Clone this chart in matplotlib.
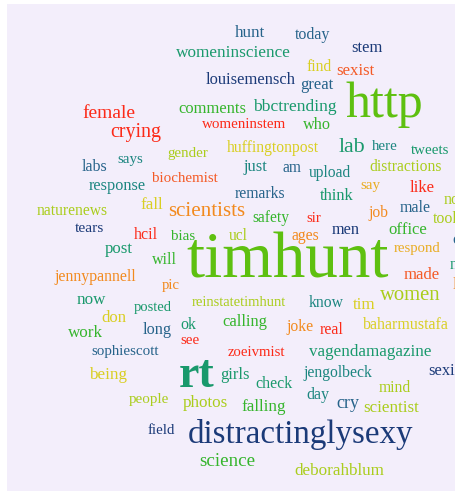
import matplotlib.pyplot as plt
from matplotlib.patches import Rectangle

# word cloud: words and their (relative) frequencies
words = ["womeninscience", "louisemensch", "hunt", "today", "stem", "find", "sexist",
         "great", "http", "female", "crying", "comments", "bbctrending", "womeninstem",
         "who", "gender", "huffingtonpost", "lab", "here", "tweets", "says", "labs",
         "just", "am", "upload", "distractions", "biochemist", "response", "say", "like",
         "remarks", "think", "no", "naturenews", "fall", "scientists", "male", "job",
         "safety", "sir", "took", "tears", "hcil", "bias", "ucl", "ages", "men", "office",
         "conference", "post", "respond", "will", "timhunt", "need", "made", "jennypannell",
         "lol", "pic", "women", "now", "reinstatetimhunt", "know", "tim", "posted", "don",
         "calling", "ok", "baharmustafa", "joke", "work", "long", "real", "see",
         "sophiescott", "zoeivmist", "vagendamagazine", "rt", "girls", "being", "sexist",
         "jengolbeck", "check", "mind", "day", "people", "photos", "cry", "falling",
         "scientist", "field", "distractinglysexy", "science", "deborahblum"]
freq = [17.3, 16.5, 17, 16, 16.5, 15.5, 16.7,
        16.5, 50, 19.5, 20, 16.5, 17.5, 15,
        16.3, 15, 15.6, 22, 15, 15, 15, 16,
        16.5, 15.5, 15.5, 15.6, 15, 16.3, 15, 16.7,
        15.8, 16.5, 16, 15.6, 17, 21, 16, 15.6,
        15.5, 15, 16, 15.4, 16, 15, 15.5, 15.8, 16.3, 16.7,
        16, 16.8, 14.8, 16, 65, 16, 16.6, 15.9,
        16, 14.7, 20.7, 17, 14.6, 15.8, 17, 14.6, 16.7,
        16.5, 16, 16, 15.7, 17, 16.3, 16, 15,
        15, 14.7, 17, 46, 16.5, 17, 16.5,
        15.7, 16, 15.6, 16, 15, 17, 18, 17,
        17, 14.7, 33, 19, 17]

# layout (left x, centre y in pixels) and colour group of each word
xs = [176, 206, 235, 295, 351, 306, 336,
      300, 346, 82, 110, 178, 253, 202,
      303, 167, 227, 339, 372, 411, 117, 82,
      244, 283, 309, 369, 152, 89, 360, 410,
      235, 320, 444, 37, 140, 168, 400, 368,
      252, 306, 433, 75, 134, 171, 229, 292, 332, 388,
      452, 105, 394, 152, 186, 450, 404, 54,
      453, 162, 380, 77, 192, 309, 353, 134, 101,
      222, 180, 363, 286, 68, 143, 320, 180,
      91, 228, 309, 179, 220, 89, 428,
      303, 255, 379, 306, 129, 183, 336, 241,
      363, 148, 188, 199, 294]
ys = [53, 80, 33, 35, 48, 67, 71,
      85, 105, 113, 133, 109, 107, 124,
      125, 154, 148, 147, 146, 150, 159, 167,
      167, 168, 173, 167, 178, 186, 185, 188,
      194, 196, 200, 211, 205, 211, 208, 213,
      218, 218, 219, 229, 235, 236, 236, 236, 230, 230,
      240, 249, 248, 260, 262, 265, 275, 277,
      285, 286, 295, 300, 302, 303, 305, 308, 318,
      322, 325, 325, 327, 333, 330, 330, 341,
      352, 352, 352, 376, 375, 375, 371,
      373, 384, 388, 395, 400, 403, 403, 407,
      408, 430, 435, 462, 471]
groups = ["tg", "nv", "bl", "bl", "nv", "ye", "ro",
          "bl", "li", "rd", "rd", "gr", "tg", "rd",
          "gr", "yg", "ye", "tg", "te", "tg", "te", "bl",
          "te", "bl", "te", "yg", "ro", "te", "oy", "rd",
          "bl", "tg", "yg", "yg", "ye", "or", "bl", "or",
          "gr", "rd", "yg", "nv", "rd", "gr", "yg", "or", "nv", "gr",
          "bl", "tg", "oy", "gr", "li", "tg", "ro", "or",
          "or", "or", "yg", "tg", "yg", "te", "ye", "tg", "ye",
          "gr", "tg", "ye", "or", "gr", "bl", "rd", "rd",
          "bl", "rd", "tg", "tg", "tg", "ye", "nv",
          "te", "tg", "yg", "te", "yg", "yg", "bl", "gr",
          "yg", "nv", "nv", "gr", "yg"]

palette = {
    "nv": "#1b3a78", "bl": "#26638a", "te": "#1c8680", "tg": "#19996c",
    "gr": "#35b52c", "li": "#5ec010", "yg": "#aacd1c", "ye": "#d9cf22",
    "oy": "#e9ad24", "or": "#f28a1e", "ro": "#f45a26", "rd": "#fc2a18",
}

W, H = 456, 491
fig = plt.figure(figsize=(W / 100, H / 100), dpi=100)
ax = fig.add_axes([0, 0, 1, 1])
ax.set_xlim(0, W)
ax.set_ylim(H, 0)
ax.axis("off")

ax.add_patch(Rectangle((7, 4), W - 7, H - 4, facecolor="#f3eefb", edgecolor="none"))

for w, f, x, y, g in zip(words, freq, xs, ys, groups):
    weight = "bold" if w == "rt" else "normal"
    ax.text(x, y, w, fontsize=f * 0.72, color=palette[g], family="Liberation Serif",
            fontweight=weight, ha="left", va="center", clip_on=True)

plt.savefig("out.png", dpi=100)
